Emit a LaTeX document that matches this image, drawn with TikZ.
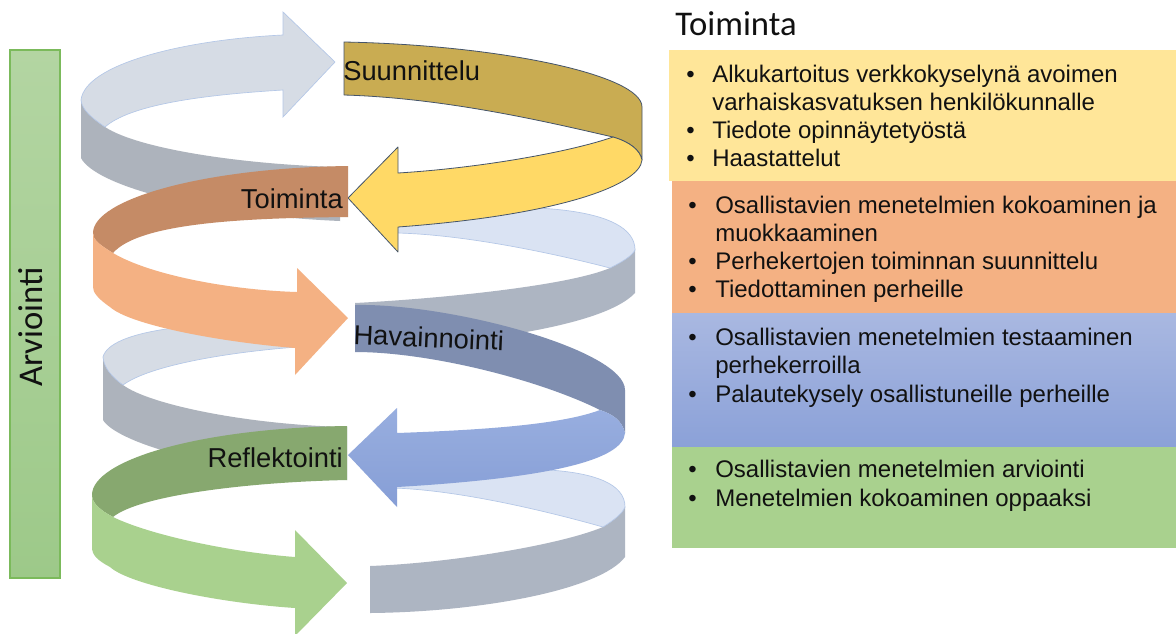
\documentclass[tikz,border=0pt]{standalone}
\usepackage{fontspec}
\setmainfont{Liberation Sans}
\newfontfamily\calibrifont{Carlito}
\definecolor{lightA}{HTML}{D6DCE5}
\definecolor{lightB}{HTML}{DAE3F3}
\definecolor{greyA}{HTML}{ADB3BC}
\definecolor{greyB}{HTML}{ADB5C2}
\definecolor{edgeblue}{HTML}{B4C7E7}
\definecolor{goldc}{HTML}{C9AC52}
\definecolor{yelc}{HTML}{FFD966}
\definecolor{outl}{HTML}{44546A}
\definecolor{brownc}{HTML}{C58B66}
\definecolor{orngc}{HTML}{F4B183}
\definecolor{slatec}{HTML}{7F8EB0}
\definecolor{bluT}{HTML}{98AEDF}
\definecolor{bluB}{HTML}{869ED6}
\definecolor{dgreenc}{HTML}{87A86F}
\definecolor{lgreenc}{HTML}{A9D18E}
\definecolor{boxY}{HTML}{FFE699}
\definecolor{boxO}{HTML}{F4B183}
\definecolor{boxBt}{HTML}{A9B8E1}
\definecolor{boxBb}{HTML}{8BA1D8}
\definecolor{boxG}{HTML}{A9D18E}
\definecolor{arvT}{HTML}{B3D5A2}
\definecolor{arvB}{HTML}{9DC989}
\definecolor{arvE}{HTML}{7BBA5B}
\definecolor{txtc}{HTML}{111111}
\tikzset{
 lbl/.style={inner sep=0pt, text=txtc, font=\fontsize{20.5}{24}\selectfont},
 txt/.style={inner sep=0pt, anchor=base west, text=txtc, font=\fontsize{18}{21}\selectfont},
 bul/.style={inner sep=0pt, anchor=base west, text=txtc, font=\fontsize{18}{21}\selectfont},
 faceL/.style={fill=lightA, draw=edgeblue, line width=0.5pt},
 faceR/.style={fill=lightB, draw=edgeblue, line width=0.5pt},
 sideL/.style={fill=greyA},
 sideR/.style={fill=greyB},
 outlined/.style={draw=outl, line width=0.6pt, line join=round},
}
\begin{document}
\begin{tikzpicture}[x=0.75pt,y=-0.75pt]
\useasboundingbox (0,0) rectangle (1176,633);
\fill[white] (0,0) rectangle (1176,633);

% ---------- right boxes ----------
\fill[boxY] (669,50) rectangle (1176,181);
\fill[boxO] (672,181) rectangle (1176,313);
\path[top color=boxBt, bottom color=boxBb] (672,313) rectangle (1176,447);
\fill[boxG] (672,447) rectangle (1176,548);

% ---------- Arvointi bar ----------
\path[top color=arvT, bottom color=arvB, draw=arvE, line width=0.8pt] (10,50) rectangle (60,578);
\node[inner sep=0pt, rotate=90, text=txtc, font=\calibrifont\fontsize{26}{30}\selectfont] (arv) at (31,327) {Arviointi};

% ---------- spiral: back pieces ----------
% top piece
\fill[sideL] (81,100) -- (81,158) .. controls (95,185) and (200,215) .. (340,221) -- (340,167)
  .. controls (250,165) and (140,150) .. (105,127) .. controls (92,118) and (82,110) .. (81,100) -- cycle;
\path[faceL] (283,35) -- (283,12) -- (335,62) -- (283,117) -- (283,90)
  .. controls (200,95) and (130,105) .. (105,127) .. controls (92,118) and (82,110) .. (81,100)
  .. controls (85,65) and (180,40) .. (283,35) -- cycle;
% right piece 1
\fill[sideR] (635,248) -- (635,293) .. controls (600,330) and (450,345) .. (355,350) -- (355,303)
  .. controls (450,298) and (570,285) .. (610,268) .. controls (622,262) and (632,256) .. (635,248) -- cycle;
\path[faceR] (398,215) .. controls (520,200) and (635,205) .. (635,250)
  .. controls (632,256) and (622,262) .. (610,268) .. controls (560,255) and (470,235) .. (398,233) -- cycle;
% left piece 1
\fill[sideL] (103,357) -- (103,420) .. controls (115,440) and (200,470) .. (347,480) -- (347,427)
  .. controls (250,425) and (150,405) .. (123,385) .. controls (112,377) and (104,368) .. (103,357) -- cycle;
\path[faceL] (297,325) -- (297,347) .. controls (230,352) and (150,365) .. (123,385)
  .. controls (112,377) and (104,368) .. (103,357) .. controls (110,330) and (200,320) .. (297,325) -- cycle;
% right piece 2
\fill[sideR] (625,507) -- (625,557) .. controls (600,590) and (480,612) .. (370,613) -- (370,566)
  .. controls (450,563) and (560,545) .. (603,527) .. controls (614,520) and (622,514) .. (625,507) -- cycle;
\path[faceR] (393,478) .. controls (500,465) and (625,460) .. (625,507)
  .. controls (622,514) and (614,520) .. (603,527) .. controls (550,512) and (460,490) .. (393,488) -- cycle;

% ---------- coloured arrows ----------
% Suunnittelu (gold) + yellow
\path[fill=goldc, outlined] (344,42) .. controls (500,45) and (642,75) .. (642,107) -- (642,160)
  .. controls (640,150) and (630,142) .. (613,137) .. controls (560,125) and (450,98) .. (344,95) -- cycle;
\path[fill=yelc, outlined] (613,137) .. controls (630,142) and (640,150) .. (642,160)
  .. controls (640,185) and (560,215) .. (398,227) -- (398,252) -- (348,198) -- (398,147) -- (398,173)
  .. controls (480,168) and (570,152) .. (613,137) -- cycle;
% Toiminta (brown) + orange
\fill[brownc] (348,166) -- (348,217) .. controls (250,218) and (140,222) .. (113,253)
  .. controls (100,245) and (93,240) .. (93,233) .. controls (93,200) and (200,168) .. (348,166) -- cycle;
\fill[orngc] (93,233) .. controls (93,240) and (100,245) .. (113,253)
  .. controls (150,275) and (230,290) .. (297,292) -- (297,268) -- (348,318) -- (295,375) -- (295,348)
  .. controls (220,342) and (130,325) .. (110,307) .. controls (97,298) and (93,292) .. (93,287) -- cycle;
% Havainnointi (slate) + blue
\fill[slatec] (355,305) .. controls (450,303) and (625,350) .. (625,390) -- (625,433)
  .. controls (622,420) and (612,414) .. (600,410) .. controls (540,380) and (430,352) .. (355,352) -- cycle;
\path[top color=bluT, bottom color=bluB] (600,410) .. controls (612,414) and (622,420) .. (625,433)
  .. controls (623,460) and (550,478) .. (397,487) -- (397,507) -- (348,455) -- (397,408) -- (397,433)
  .. controls (480,430) and (560,425) .. (600,410) -- cycle;
% Reflektointi (dark green) + light green
\fill[dgreenc] (347,426) -- (347,480) .. controls (250,482) and (140,495) .. (113,517)
  .. controls (100,510) and (92,503) .. (92,495) .. controls (92,460) and (200,428) .. (347,426) -- cycle;
\fill[lgreenc] (92,495) .. controls (92,503) and (100,510) .. (113,517)
  .. controls (150,535) and (230,552) .. (295,557) -- (295,530) -- (347,583) -- (295,636) -- (295,608)
  .. controls (220,603) and (130,585) .. (110,567) .. controls (97,560) and (92,555) .. (92,547) -- cycle;

% ---------- spiral labels ----------
\node[lbl, anchor=base west] (suun) at (343,80) {Suunnittelu};
\node[lbl, anchor=base east] (toim) at (343,208) {Toiminta};
\node[lbl, anchor=base west, rotate=-2.5] (hav) at (353,344) {Havainnointi};
\node[lbl, anchor=base east] (refl) at (343,467) {Reflektointi};

% ---------- right column text ----------
\node[inner sep=0pt, anchor=base west, text=txtc, font=\calibrifont\fontsize{26}{30}\selectfont] (title) at (675,35) {Toiminta};

\node[bul] (b1) at (686,82) {•};
\node[txt] (t1a) at (712,82) {Alkukartoitus verkkokyselynä avoimen};
\node[txt] (t1b) at (712,110) {varhaiskasvatuksen henkilökunnalle};
\node[bul] (b2) at (686,138) {•};
\node[txt] (t2) at (712,138) {Tiedote opinnäytetyöstä};
\node[bul] (b3) at (686,166) {•};
\node[txt] (t3) at (712,166) {Haastattelut};

\node[bul] (b4) at (688,213) {•};
\node[txt] (t4a) at (715,213) {Osallistavien menetelmien kokoaminen ja};
\node[txt] (t4b) at (715,241) {muokkaaminen};
\node[bul] (b5) at (688,269) {•};
\node[txt] (t5) at (715,269) {Perhekertojen toiminnan suunnittelu};
\node[bul] (b6) at (688,297) {•};
\node[txt] (t6) at (715,297) {Tiedottaminen perheille};

\node[bul] (b7) at (688,345) {•};
\node[txt] (t7a) at (715,345) {Osallistavien menetelmien testaaminen};
\node[txt] (t7b) at (715,373) {perhekerroilla};
\node[bul] (b8) at (688,402) {•};
\node[txt] (t8) at (715,402) {Palautekysely osallistuneille perheille};

\node[bul] (b9) at (688,477) {•};
\node[txt] (t9) at (715,477) {Osallistavien menetelmien arviointi};
\node[bul] (b10) at (688,506) {•};
\node[txt] (t10) at (715,506) {Menetelmien kokoaminen oppaaksi};
\end{tikzpicture}
\end{document}
